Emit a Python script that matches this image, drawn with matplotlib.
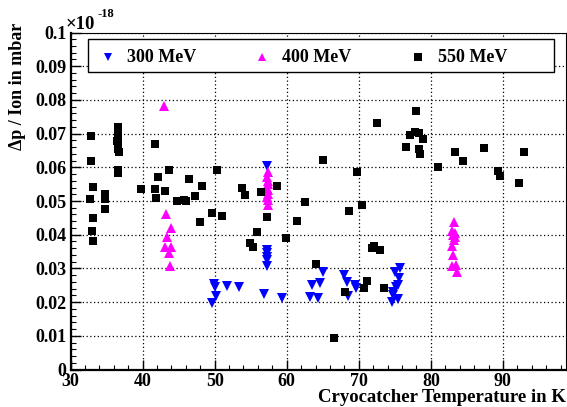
import numpy as np
import matplotlib
matplotlib.use("Agg")
import matplotlib.pyplot as plt
from matplotlib.ticker import MultipleLocator, FuncFormatter
from matplotlib.lines import Line2D
from matplotlib.patches import Rectangle

# ─── Data (values in units of 1e-18 mbar) ───────────────────────────
t300 = [49.9, 50.0, 50.15, 49.7, 51.7, 53.4, 56.9, 59.3,
        57.25, 57.25, 57.25, 57.25, 57.25, 57.25,
        63.2, 63.5, 64.4, 64.65, 65.1,
        68.0, 68.3, 68.5, 69.5, 69.65,
        75.67, 75.07, 75.6, 75.4, 75.1, 74.8, 74.75, 75.4, 74.55]
p300 = [0.0253, 0.0245, 0.0218, 0.0197, 0.0248, 0.0244, 0.0225, 0.0211,
        0.0605, 0.0355, 0.0345, 0.0333, 0.0325, 0.0308,
        0.0216, 0.0250, 0.0213, 0.0256, 0.0290,
        0.0279, 0.0261, 0.0217, 0.0252, 0.0241,
        0.0302, 0.0289, 0.0272, 0.0250, 0.0246, 0.0230, 0.0220, 0.0209, 0.0199]

t400 = [42.95, 43.2, 43.9, 43.4, 43.1, 44.0, 43.6, 43.8,
        57.35, 57.3, 57.4, 57.35, 57.3, 57.4, 57.35, 57.3, 57.4, 57.35,
        83.2, 83.0, 83.3, 83.1, 83.4, 83.2, 82.9, 83.1, 83.0, 83.5, 83.65]
p400 = [0.0783, 0.0462, 0.0421, 0.0393, 0.0364, 0.0364, 0.0347, 0.0307,
        0.0585, 0.0572, 0.0560, 0.0550, 0.0540, 0.0532, 0.0522, 0.0512, 0.0503, 0.0488,
        0.0438, 0.0412, 0.0405, 0.0398, 0.0392, 0.0385, 0.0365, 0.0341, 0.0308, 0.0310, 0.0289]

t550 = [32.9, 32.8, 33.1, 32.75, 33.1, 33.0, 33.1,
        36.6, 36.55, 36.6, 36.5, 36.65, 36.6, 36.7, 36.55, 36.6,
        34.75, 34.8, 34.8,
        39.85, 41.7, 41.7, 41.8, 42.15, 43.1, 43.6,
        44.8, 45.7, 46.0, 46.5, 47.25, 48.3, 47.9, 49.65, 50.3, 51.0,
        53.8, 54.2, 56.4, 58.6, 57.25, 55.9, 54.9, 55.3, 59.9, 61.4, 62.6,
        65.1, 68.6, 69.75, 70.4,
        64.0, 66.55, 68.1, 70.75, 71.1, 71.8, 72.15, 73.0, 73.5,
        78.0, 72.5, 77.15, 77.75, 78.35, 78.85, 76.5, 78.35, 78.45,
        83.35, 84.5, 87.4, 92.9, 81.0, 89.3, 89.65, 92.2]
p550 = [0.0693, 0.0620, 0.0542, 0.0505, 0.0450, 0.0410, 0.0380,
        0.0720, 0.0705, 0.0690, 0.0678, 0.0665, 0.0655, 0.0645, 0.0592, 0.0583,
        0.0520, 0.0505, 0.0477,
        0.0536, 0.0670, 0.0537, 0.0510, 0.0571, 0.0531, 0.0591,
        0.0500, 0.0502, 0.0500, 0.0564, 0.0515, 0.0544, 0.0438, 0.0465, 0.0591, 0.0456,
        0.0539, 0.0518, 0.0527, 0.0544, 0.0453, 0.0407, 0.0376, 0.0364, 0.0390, 0.0441, 0.0497,
        0.0622, 0.0469, 0.0585, 0.0487,
        0.0312, 0.0092, 0.0229, 0.0243, 0.0263, 0.0361, 0.0367, 0.0355, 0.0241,
        0.0768, 0.0730, 0.0696, 0.0704, 0.0702, 0.0685, 0.0660, 0.0653, 0.0640,
        0.0645, 0.0618, 0.0658, 0.0645, 0.0601, 0.0588, 0.0573, 0.0553]

labels = ["300 MeV", "400 MeV", "550 MeV"]
colors = ["#0000ff", "#ff00ff", "#000000"]
markers = ["v", "^", "s"]
# ────────────────────────────────────────────────────────────────────

plt.rcParams['font.family'] = ['Liberation Serif', 'DejaVu Serif']
plt.rcParams['font.weight'] = 'bold'

fig = plt.figure(figsize=(5.67, 4.07), dpi=100)
ax = fig.add_axes([70.5 / 567, 37.5 / 407, 495.5 / 567, 337 / 407])

series = [(t300, p300), (t400, p400), (t550, p550)]
sizes = [6.5, 6.5, 5.4]
for (t, p), c, m, ms in zip(series, colors, markers, sizes):
    ax.plot(t, p, linestyle='none', marker=m, color=c, markersize=ms,
            markeredgewidth=0, zorder=3)

ax.set_xlim(30, 98.75)
ax.set_ylim(0, 0.1)

ax.xaxis.set_major_locator(MultipleLocator(10))
ax.xaxis.set_minor_locator(MultipleLocator(2))
ax.yaxis.set_major_locator(MultipleLocator(0.01))
ax.yaxis.set_minor_locator(MultipleLocator(0.002))
ax.yaxis.set_major_formatter(FuncFormatter(lambda v, _: "0" if abs(v) < 1e-9 else f"{v:.2f}".rstrip("0")))

ax.tick_params(which='both', direction='in', top=False, right=False, labelsize=13)
ax.tick_params(which='major', length=7, width=1)
ax.tick_params(which='minor', length=3.5, width=0.8)
ax.tick_params(axis='x', pad=2.5)
ax.tick_params(axis='y', pad=3)
for lab in ax.get_xticklabels() + ax.get_yticklabels():
    lab.set_fontweight('bold')

for s in ['left', 'bottom']:
    ax.spines[s].set_linewidth(1.6)
for s in ['top', 'right']:
    ax.spines[s].set_linewidth(0.8)

ax.grid(True, which='major', linestyle=(0, (1, 2)), color='black', linewidth=0.9)
ax.set_axisbelow(True)

fig.text(566 / 567, 4.5 / 407, "Cryocatcher Temperature in K", ha='right', va='baseline',
         fontsize=13.5, fontweight='bold')
fig.text(18 / 567, 1 - 23 / 407, "Δp / Ion in mbar", rotation=90, ha='center', va='top',
         fontsize=13, fontweight='bold')

# exponent label
fig.text(66 / 567, 1 - 29 / 407, "×10", ha='left', va='baseline', fontsize=13.5, fontweight='bold')
fig.text(98 / 567, 1 - 17 / 407, "-18", ha='left', va='baseline', fontsize=9, fontweight='bold')

# legend box
x0, x1 = (88 - 70.5) / 495.5, (554 - 70.5) / 495.5
y0, y1 = (369.5 - 72) / 337, (369.5 - 39) / 337
ax.add_patch(Rectangle((x0, y0), x1 - x0, y1 - y0, transform=ax.transAxes,
                       facecolor='white', edgecolor='black', linewidth=1.0, zorder=5))
yc = (369.5 - 57) / 337
mx = [0.075, 0.3865, 0.7007]
tx = [0.1138, 0.4268, 0.7418]
for lab, c, m, x_m, x_t in zip(labels, colors, markers, mx, tx):
    ax.add_line(Line2D([x_m], [yc], transform=ax.transAxes, marker=m, color=c,
                       markersize=6, markeredgewidth=0, linestyle='none', zorder=6))
    ax.text(x_t, yc, lab, transform=ax.transAxes, ha='left', va='center',
            fontsize=13, fontweight='bold', zorder=6)

fig.savefig("out.png", dpi=100)
